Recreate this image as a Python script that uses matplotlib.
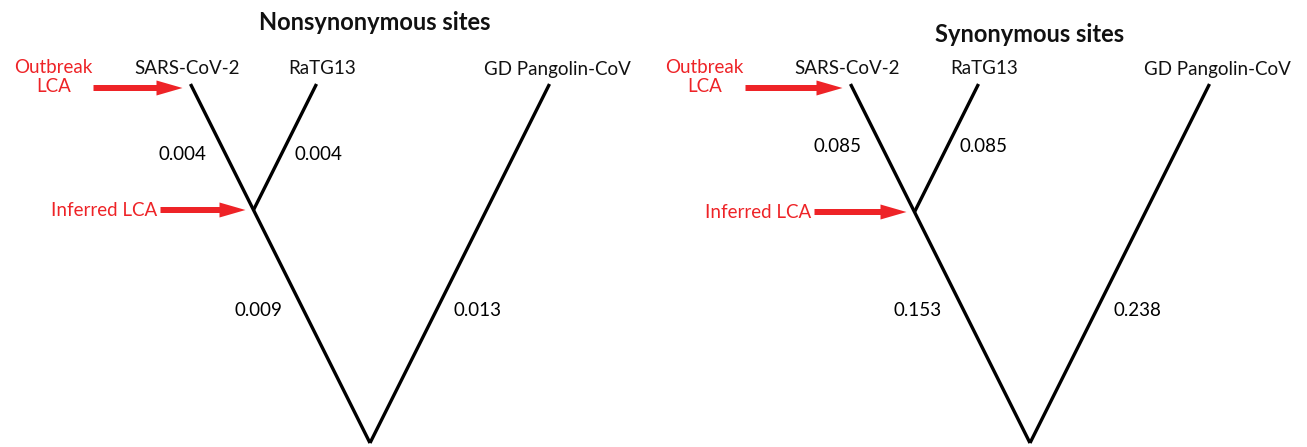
import matplotlib
matplotlib.use("Agg")
import matplotlib.pyplot as plt

# data
panel_titles = ["Nonsynonymous sites", "Synonymous sites"]
taxa = ["SARS-CoV-2", "RaTG13", "GD Pangolin-CoV"]
# branch lengths: SARS-CoV-2, RaTG13, internal (LCA->root), GD Pangolin-CoV
nonsyn_lengths = [0.004, 0.004, 0.009, 0.013]
syn_lengths = [0.085, 0.085, 0.153, 0.238]
branch_sets = [nonsyn_lengths, syn_lengths]

# layout (pixel space)
W, H = 1307, 447
root_x = [370, 1030]
root_y = 443
tip_y = 84
lca_y = [210, 212]
slope = 0.5
title_y = [22, 35]
upper_lab_y = [155, 147]
lower_lab_y = 311
outbreak_arrow_off = [97, 105]
outbreak_text_off = [137, 146]
inferred_arrow_off = [93, 100]
red = "#ee2327"
fs = 13.5

plt.rcParams['font.family'] = ['Lato', 'DejaVu Sans']

fig = plt.figure(figsize=(W / 100, H / 100), dpi=100)
ax = fig.add_axes([0, 0, 1, 1])
ax.set_xlim(0, W)
ax.set_ylim(H, 0)
ax.axis("off")


def x_on(x0, y0, y, sign):
    return x0 + sign * slope * (y0 - y)


for i in range(2):
    rx = root_x[i]
    ly = lca_y[i]
    lx = x_on(rx, root_y, ly, -1)
    sars_x = x_on(lx, ly, tip_y, -1)
    ratg_x = x_on(lx, ly, tip_y, 1)
    gd_x = x_on(rx, root_y, tip_y, 1)
    lw = 2.4
    ax.plot([rx, sars_x], [root_y, tip_y], color="black", lw=lw, solid_capstyle="butt")
    ax.plot([lx, ratg_x], [ly, tip_y], color="black", lw=lw, solid_capstyle="butt")
    ax.plot([rx, gd_x], [root_y, tip_y], color="black", lw=lw, solid_capstyle="butt")

    # tip labels
    for name, tx in zip(taxa, [sars_x, ratg_x, gd_x]):
        off = {"SARS-CoV-2": -3, "RaTG13": 6, "GD Pangolin-CoV": 8}[name]
        ax.text(tx + off, tip_y - 15, name,
                ha="center", va="center", fontsize=fs, color="#111111")

    ax.text(rx + 5 - 5 * i, title_y[i], panel_titles[i], ha="center", va="center",
            fontsize=17, fontweight="bold", color="#111111")

    # branch length labels
    bl = branch_sets[i]
    uy = upper_lab_y[i]
    ax.text(x_on(lx, ly, uy, -1) - 44, uy, f"{bl[0]:.3f}", ha="center", va="center", fontsize=fs)
    ax.text(x_on(lx, ly, uy, 1) + 37, uy, f"{bl[1]:.3f}", ha="center", va="center", fontsize=fs)
    ax.text(x_on(rx, root_y, lower_lab_y, -1) - 46, lower_lab_y, f"{bl[2]:.3f}",
            ha="center", va="center", fontsize=fs)
    ax.text(x_on(rx, root_y, lower_lab_y, 1) + 41, lower_lab_y, f"{bl[3]:.3f}",
            ha="center", va="center", fontsize=fs)

    # red arrows
    oa = outbreak_arrow_off[i]
    ax.arrow(sars_x - oa, tip_y + 4, oa - 8, 0, width=6, head_width=15, head_length=26,
             length_includes_head=True, color=red, lw=0)
    ax.text(sars_x - outbreak_text_off[i], tip_y - 7, "Outbreak\nLCA", ha="center", va="center",
            fontsize=fs, color=red, linespacing=1.1)
    ia = inferred_arrow_off[i]
    ax.arrow(lx - ia, ly, ia - 8, 0, width=6, head_width=15, head_length=26,
             length_includes_head=True, color=red, lw=0)
    ax.text(lx - ia - 3, ly, "Inferred LCA", ha="right", va="center", fontsize=fs, color=red)

fig.savefig("out.png", dpi=100)
